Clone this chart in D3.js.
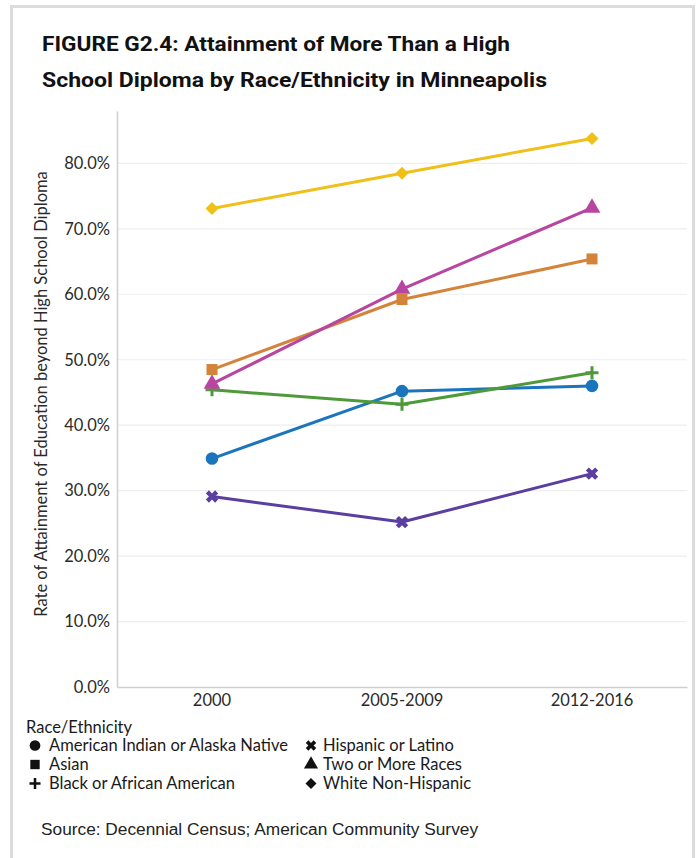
<!DOCTYPE html>
<html>
<head>
<meta charset="utf-8">
<script src="https://cdn.jsdelivr.net/npm/d3@7"></script>
<style>
  html, body { margin: 0; padding: 0; background: #ffffff; }
  svg { display: block; }
</style>
</head>
<body>
<svg id="chart" width="699" height="858"></svg>
<script>
// ---- Data ----
const periods = ["2000", "2005-2009", "2012-2016"];
const yTicks = [0, 0.1, 0.2, 0.3, 0.4, 0.5, 0.6, 0.7, 0.8];
const seriesNames = [
  "American Indian or Alaska Native",
  "Asian",
  "Black or African American",
  "Hispanic or Latino",
  "Two or More Races",
  "White Non-Hispanic"
];
const americanIndian = [0.349, 0.452, 0.460];
const asian = [0.485, 0.592, 0.654];
const black = [0.454, 0.432, 0.480];
const hispanic = [0.291, 0.252, 0.326];
const twoOrMore = [0.463, 0.608, 0.732];
const white = [0.731, 0.785, 0.838];
const seriesColors = ["#1b75bc", "#d3843a", "#4e9a3a", "#5a3ea0", "#b8459f", "#f0bf18"];
const seriesShapes = ["circle", "square", "plus", "x", "triangle", "diamond"];
const seriesValues = [americanIndian, asian, black, hispanic, twoOrMore, white];

const titleLines = [
  "FIGURE G2.4: Attainment of More Than a High",
  "School Diploma by Race/Ethnicity in Minneapolis"
];
const yAxisTitle = "Rate of Attainment of Education beyond High School Diploma";
const legendTitle = "Race/Ethnicity";
const sourceText = "Source: Decennial Census; American Community Survey";

// ---- Layout ----
const svg = d3.select("#chart");
const plot = { left: 117, right: 687, top: 111, bottom: 687 };
const chartFont = "Lato, 'Open Sans', sans-serif";
const fs = 16.5;

// frame
svg.append("rect")
  .attr("x", 11.5).attr("y", 6.5)
  .attr("width", 682).attr("height", 870)
  .attr("fill", "#ffffff")
  .attr("stroke", "#dcdcdc").attr("stroke-width", 3);

// title
const titleWidths = [468, 505];
titleLines.forEach((t, i) => {
  svg.append("text")
    .attr("x", 42).attr("y", 51 + i * 36)
    .attr("font-family", "Roboto, 'Liberation Sans', sans-serif")
    .attr("font-weight", 700)
    .attr("font-size", 20)
    .attr("fill", "#111")
    .attr("textLength", titleWidths[i])
    .attr("lengthAdjust", "spacingAndGlyphs")
    .text(t);
});

// scales
const x = d3.scaleBand().domain(periods).range([plot.left, plot.right]);
const y = d3.scaleLinear().domain([0, 0.88]).range([plot.bottom, plot.top]);
const xc = d => x(d) + x.bandwidth() / 2;

// gridlines
svg.append("g")
  .selectAll("line")
  .data(yTicks.filter(d => d > 0))
  .join("line")
  .attr("x1", plot.left).attr("x2", plot.right)
  .attr("y1", d => y(d)).attr("y2", d => y(d))
  .attr("stroke", "#eeeeee").attr("stroke-width", 1.2);

// y axis
const yAxis = svg.append("g")
  .attr("transform", `translate(${plot.left},0)`)
  .call(d3.axisLeft(y).tickValues(yTicks).tickFormat(d3.format(".1%")).tickSize(0).tickPadding(7));
yAxis.select(".domain").attr("stroke", "#cfcfcf").attr("stroke-width", 1.5);
yAxis.selectAll("text")
  .attr("font-family", chartFont).attr("font-size", fs).attr("fill", "#2a2a2a");

// x axis
const xAxis = svg.append("g")
  .attr("transform", `translate(0,${plot.bottom})`)
  .call(d3.axisBottom(x).tickSize(0).tickPadding(7));
xAxis.select(".domain").attr("stroke", "#cfcfcf").attr("stroke-width", 1.5);
xAxis.selectAll("text")
  .attr("font-family", chartFont).attr("font-size", fs).attr("fill", "#2a2a2a");

// y axis title
svg.append("text")
  .attr("transform", `translate(47,${(plot.top + plot.bottom) / 2 - 5}) rotate(-90)`)
  .attr("text-anchor", "middle")
  .attr("font-family", chartFont).attr("font-size", fs).attr("fill", "#2a2a2a")
  .text(yAxisTitle);

// marker drawing
function drawMarker(g, shape, color, scale) {
  const s = scale || 1;
  if (shape === "circle") {
    g.append("circle").attr("r", 6.3 * s).attr("fill", color);
  } else if (shape === "square") {
    g.append("rect").attr("x", -5.5 * s).attr("y", -5.5 * s)
      .attr("width", 11 * s).attr("height", 11 * s).attr("fill", color);
  } else if (shape === "triangle") {
    g.append("path").attr("d", d3.symbol().type(d3.symbolTriangle).size(120 * s * s)()).attr("fill", color);
  } else if (shape === "diamond") {
    const r = 6.5 * s;
    g.append("path").attr("d", `M0,${-r}L${r},0L0,${r}L${-r},0Z`).attr("fill", color);
  } else if (shape === "plus") {
    const r = 6.5 * s;
    g.append("path").attr("d", `M${-r},0H${r}M0,${-r}V${r}`)
      .attr("stroke", color).attr("stroke-width", 3 * s).attr("fill", "none");
  } else if (shape === "x") {
    g.append("path").attr("d", d3.symbol().type(d3.symbolCross).size(95 * s * s)())
      .attr("transform", "rotate(45)").attr("fill", color);
  }
}

// lines and markers
const line = d3.line().x((d, i) => xc(periods[i])).y(d => y(d));
const order = [3, 0, 2, 1, 4, 5];
order.forEach(k => {
  svg.append("path")
    .datum(seriesValues[k])
    .attr("d", line)
    .attr("fill", "none")
    .attr("stroke", seriesColors[k])
    .attr("stroke-width", 3)
    .attr("stroke-linejoin", "round");
});
order.forEach(k => {
  seriesValues[k].forEach((v, i) => {
    const g = svg.append("g").attr("transform", `translate(${xc(periods[i])},${y(v)})`);
    drawMarker(g, seriesShapes[k], seriesColors[k], 1);
  });
});

// legend
svg.append("text")
  .attr("x", 26).attr("y", 733)
  .attr("font-family", chartFont).attr("font-size", fs).attr("fill", "#1a1a1a")
  .text(legendTitle);
const legendCols = [{ mx: 35, tx: 49 }, { mx: 311, tx: 323 }];
seriesNames.forEach((name, k) => {
  const col = legendCols[Math.floor(k / 3)];
  const row = k % 3;
  const by = 751 + row * 19;
  const g = svg.append("g").attr("transform", `translate(${col.mx},${by - 5.5})`);
  drawMarker(g, seriesShapes[k], "#111", 0.85);
  svg.append("text")
    .attr("x", col.tx).attr("y", by)
    .attr("font-family", chartFont).attr("font-size", fs).attr("fill", "#1a1a1a")
    .text(name);
});

// source
svg.append("text")
  .attr("x", 41).attr("y", 835)
  .attr("font-family", "'Liberation Sans', Arial, sans-serif").attr("font-size", 17.3).attr("fill", "#222")
  .text(sourceText);
</script>
</body>
</html>
